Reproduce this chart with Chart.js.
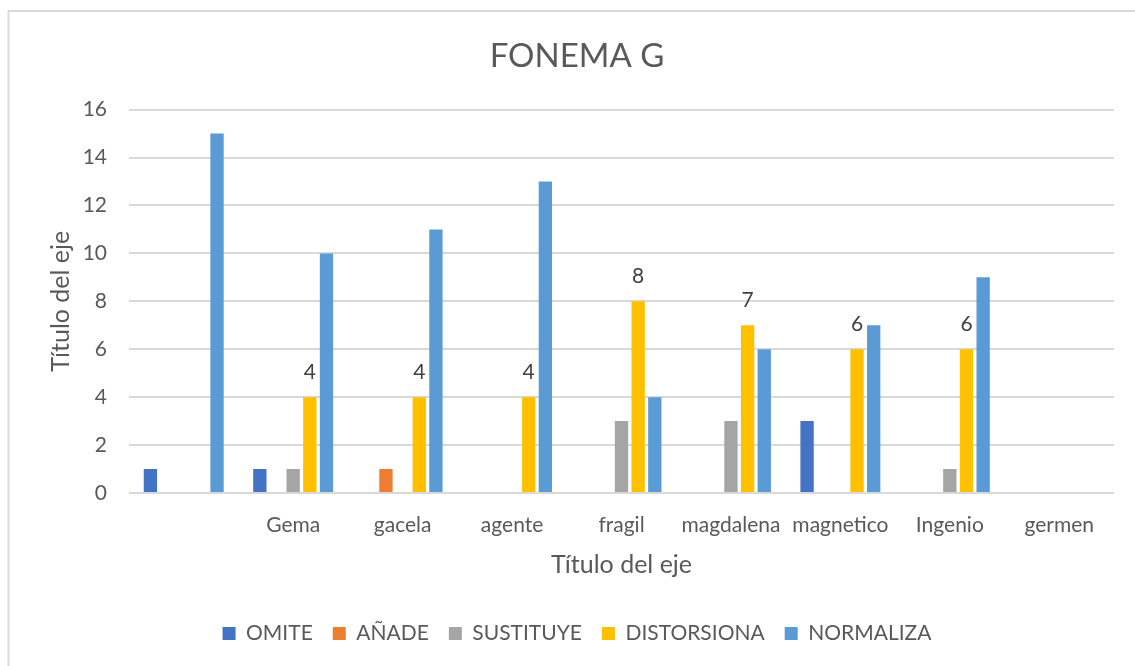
<!DOCTYPE html>
<html>
<head>
<meta charset="utf-8">
<script src="https://cdn.jsdelivr.net/npm/chart.js@4"></script>
<style>
  body { margin: 0; background: #ffffff; }
</style>
</head>
<body>
<canvas id="myChart" width="1135" height="666"></canvas>
<script>
// categories (the first group has no label in the original)
const categories = ['', 'Gema', 'gacela', 'agente', 'fragil', 'magdalena', 'magnetico', 'Ingenio', 'germen'];

// series values
const omite       = [1, 1, null, null, null, null, 3, null, null];
const anade       = [null, null, 1, null, null, null, null, null, null];
const sustituye   = [null, 1, null, null, 3, 3, null, 1, null];
const distorsiona = [null, 4, 4, 4, 8, 7, 6, 6, null];
const normaliza   = [15, 10, 11, 13, 4, 6, 7, 9, null];

const yTicks = [0, 2, 4, 6, 8, 10, 12, 14, 16];

const COLORS = {
    "OMITE": "#4472C4",
    "ANADE": "#ED7D31",
    "SUSTITUYE": "#A5A5A5",
    "DISTORSIONA": "#FFC000",
    "NORMALIZA": "#5B9BD5"
};

// light frame around the whole chart, like the office chart border
const framePlugin = {
    id: 'frame',
    beforeDraw(chart) {
        const ctx = chart.ctx;
        ctx.save();
        ctx.strokeStyle = '#d9d9d9';
        ctx.lineWidth = 2;
        ctx.strokeRect(8.5, 11, chart.width + 20, chart.height + 20);
        ctx.restore();
    }
};

// value labels only on the DISTORSIONA bars
const labelPlugin = {
    id: 'distLabels',
    afterDatasetsDraw(chart) {
        const ctx = chart.ctx;
        const idx = chart.data.datasets.findIndex(d => d.label === 'DISTORSIONA');
        const meta = chart.getDatasetMeta(idx);
        ctx.save();
        ctx.font = '21px Lato';
        ctx.fillStyle = '#404040';
        ctx.textAlign = 'center';
        ctx.textBaseline = 'alphabetic';
        meta.data.forEach((bar, i) => {
            const v = chart.data.datasets[idx].data[i];
            if (v === null || v === undefined) return;
            ctx.fillText(String(v), bar.x, bar.y - 18);
        });
        ctx.restore();
    }
};

function drawChart() {
    Chart.defaults.font.family = 'Lato';
    Chart.defaults.color = '#595959';

    const ctx = document.getElementById('myChart').getContext('2d');
    const series = [
        ['OMITE', omite, COLORS.OMITE],
        ['AÑADE', anade, COLORS.ANADE],
        ['SUSTITUYE', sustituye, COLORS.SUSTITUYE],
        ['DISTORSIONA', distorsiona, COLORS.DISTORSIONA],
        ['NORMALIZA', normaliza, COLORS.NORMALIZA]
    ];

    const myChart = new Chart(ctx, {
        type: 'bar',
        data: {
            labels: categories,
            datasets: series.map(s => ({
                label: s[0],
                data: s[1],
                backgroundColor: s[2],
                borderWidth: 0,
                categoryPercentage: 0.761,
                barPercentage: 0.8
            }))
        },
        options: {
            responsive: false,
            animation: false,
            layout: {
                padding: { left: 40, right: 21, top: 0, bottom: 12 }
            },
            plugins: {
                title: {
                    display: true,
                    text: 'FONEMA G',
                    color: '#595959',
                    font: { size: 33, weight: 'normal' },
                    padding: { top: 37, bottom: 33 }
                },
                legend: {
                    position: 'bottom',
                    labels: {
                        boxWidth: 13,
                        boxHeight: 13,
                        padding: 20,
                        color: '#595959',
                        font: { size: 21 }
                    }
                },
                tooltip: { enabled: false }
            },
            scales: {
                x: {
                    grid: { display: false },
                    border: { display: false },
                    ticks: {
                        padding: 12,
                        color: '#595959',
                        font: { size: 21 },
                        maxRotation: 0,
                        autoSkip: false
                    },
                    title: {
                        display: true,
                        text: 'Título del eje',
                        color: '#595959',
                        font: { size: 25 },
                        padding: { top: 0, bottom: 23 }
                    },
                    afterFit: s => { s.height = 110; }
                },
                y: {
                    min: yTicks[0],
                    max: yTicks[yTicks.length - 1],
                    grid: { color: '#d9d9d9', lineWidth: 2, drawTicks: false },
                    border: { display: false },
                    afterBuildTicks: s => { s.ticks = yTicks.map(v => ({ value: v })); },
                    ticks: {
                        padding: 22,
                        color: '#595959',
                        font: { size: 21 }
                    },
                    title: {
                        display: true,
                        text: 'Título del eje',
                        color: '#595959',
                        font: { size: 25 },
                        padding: { top: 6, bottom: 0 }
                    },
                    afterFit: s => { s.width = 89; }
                }
            }
        },
        plugins: [framePlugin, labelPlugin]
    });
}

document.fonts.load('21px Lato').then(drawChart, drawChart);
</script>
</body>
</html>
